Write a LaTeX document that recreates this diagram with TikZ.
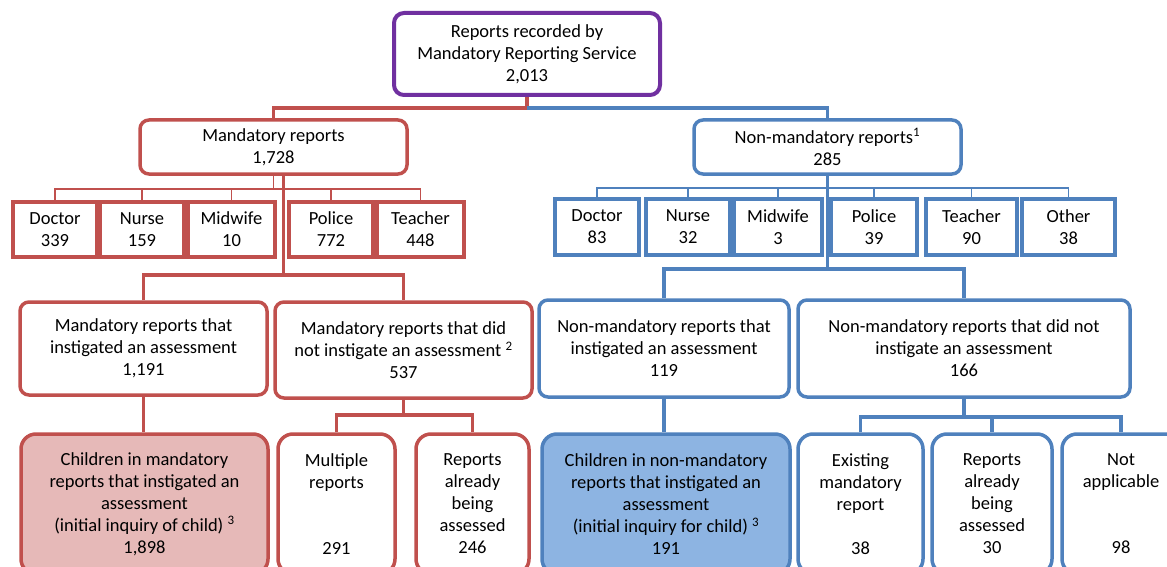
\documentclass[tikz,border=0pt]{standalone}
\usepackage{fontspec}
\setmainfont{Carlito}
\usetikzlibrary{positioning}

\definecolor{mrsred}{RGB}{192,80,77}
\definecolor{mrsblue}{RGB}{79,129,189}
\definecolor{mrspurple}{RGB}{112,48,160}
\definecolor{mrspink}{RGB}{230,185,184}
\definecolor{mrssky}{RGB}{141,180,226}

\begin{document}
\begin{tikzpicture}[x=1pt,y=-1pt,every node/.style={shape=rectangle,align=center,inner sep=0,fill=white,font=\fontsize{18.5}{22}\selectfont},
  topbox/.style={draw=mrspurple,line width=4pt,rounded corners=10pt},
  redgrp/.style={draw=mrsred,line width=3.5pt,rounded corners=9pt},
  bluegrp/.style={draw=mrsblue,line width=3.5pt,rounded corners=9pt},
  redjob/.style={draw=mrsred,line width=4pt,minimum height=55pt},
  bluejob/.style={draw=mrsblue,line width=4pt,minimum height=56pt},
  redend/.style={redgrp,rounded corners=15pt,minimum height=140pt},
  blueend/.style={bluegrp,rounded corners=15pt,minimum height=140pt},
  redlink/.style={draw=mrsred,line width=3.5pt},
  bluelink/.style={draw=mrsblue,line width=3.5pt},
  redthin/.style={draw=mrsred,line width=1.5pt},
  bluethin/.style={draw=mrsblue,line width=1.5pt}]

\useasboundingbox (0,0) rectangle (1167,567);
\clip (0,0) rectangle (1167,567);

% top
\node [topbox, minimum width=266pt, minimum height=82pt] (top) at (527,54) {Reports recorded by\\Mandatory Reporting Service\\2,013};

% mandatory side
\node [redgrp, minimum width=267pt, minimum height=54pt] (mand) at (273.5,147) {Mandatory reports\\1,728};
\node [redjob, minimum width=84pt] (rdoc) at (55,229.5) {Doctor\\339};
\node [redjob, minimum width=84pt] (rnur) at (142,229.5) {Nurse\\159};
\node [redjob, minimum width=87pt] (rmid) at (231.5,229.5) {Midwife\\10};
\node [redjob, minimum width=84pt] (rpol) at (331,229.5) {Police\\772};
\node [redjob, minimum width=87pt] (rtea) at (420.5,229.5) {Teacher\\448};
\node [redgrp, minimum width=247pt, minimum height=93pt] (rasm) at (143.5,348.5) {Mandatory reports that\\instigated an assessment\\1,191};
\node [redgrp, minimum width=257pt, minimum height=96pt] (rnot) at (403.5,350) {Mandatory reports that did\\not instigate an assessment \textsuperscript{2}\\537};
\node [redend, fill=mrspink, minimum width=247pt] (rchi) at (144.5,504) {Children in mandatory\\reports that instigated an\\assessment\\(initial inquiry of child) \textsuperscript{3}\\1,898};
\node [redend, minimum width=117pt] (rmul) at (336.5,504) {Multiple\\reports\\~\\~\\291};
\node [redend, minimum width=113pt] (rbei) at (472.5,504) {Reports\\already\\being\\assessed\\246};

% non-mandatory side
\node [bluegrp, minimum width=267pt, minimum height=54pt] (nonm) at (827.5,147) {Non-mandatory reports\textsuperscript{1}\\285};
\node [bluejob, minimum width=84pt] (bdoc) at (597,227) {Doctor\\83};
\node [bluejob, minimum width=84pt] (bnur) at (688,227) {Nurse\\32};
\node [bluejob, minimum width=88pt] (bmid) at (778,227) {Midwife\\3};
\node [bluejob, minimum width=86pt] (bpol) at (874,227) {Police\\39};
\node [bluejob, minimum width=91pt] (btea) at (971.5,227) {Teacher\\90};
\node [bluejob, minimum width=93pt] (both) at (1068.5,227) {Other\\38};
\node [bluegrp, minimum width=250pt, minimum height=97pt] (basm) at (664,348.5) {Non-mandatory reports that\\instigated an assessment\\119};
\node [bluegrp, minimum width=332pt, minimum height=97pt] (bnot) at (964,348.5) {Non-mandatory reports that did not\\instigate an assessment\\166};
\node [blueend, fill=mrssky, minimum width=248pt] (bchi) at (666,504) {Children in non-mandatory\\reports that instigated an\\assessment\\(initial inquiry for child) \textsuperscript{3}\\191};
\node [blueend, minimum width=125pt] (bexi) at (860.5,504) {Existing\\mandatory\\report\\~\\38};
\node [blueend, minimum width=120pt] (bbei) at (992,504) {Reports\\already\\being\\assessed\\30};
\node [blueend, minimum width=118pt] (bnap) at (1121,504) {Not\\applicable\\~\\~\\98};

% connectors
\coordinate (split) at (527,108);
\draw [redlink] (top.south) -- (split) -| (mand.north);
\draw [bluelink] (split) -| (nonm.north);

\coordinate (rjobs) at (273.5,189);
\draw [redthin] (mand.south) -- (rjobs);
\foreach \j in {rdoc,rnur,rmid,rpol,rtea}
  \draw [redthin] (rjobs) -| (\j.north);
\coordinate (rsplit) at (283.5,275);
\draw [redlink] ([xshift=10pt]mand.south) -- (rsplit);
\draw [redlink] (rasm.north) |- (rsplit) -| (rnot.north);
\draw [redlink] (rasm.south) -- (rasm.south |- rchi.north);
\draw [redlink] (rnot.south) -- ++(0,15) coordinate (rnotsplit);
\draw [redlink] (rmul.north) |- (rnotsplit) -| (rbei.north);

\coordinate (bjobs) at (827.5,188);
\foreach \j in {bdoc,bnur,bmid,bpol,btea,both}
  \draw [bluethin] (bjobs) -| (\j.north);
\coordinate (bsplit) at (827.5,269);
\draw [bluelink] (nonm.south) -- (bsplit);
\draw [bluelink] (basm.north) |- (bsplit) -| (bnot.north);
\draw [bluelink] (basm.south) -- (basm.south |- bchi.north);
\draw [bluelink] (bnot.south) -- ++(0,18) coordinate (bnotsplit);
\draw [bluelink] (bexi.north) |- (bnotsplit) -| (bbei.north);
\draw [bluelink] (bnotsplit) -| (bnap.north);
\end{tikzpicture}
\end{document}
